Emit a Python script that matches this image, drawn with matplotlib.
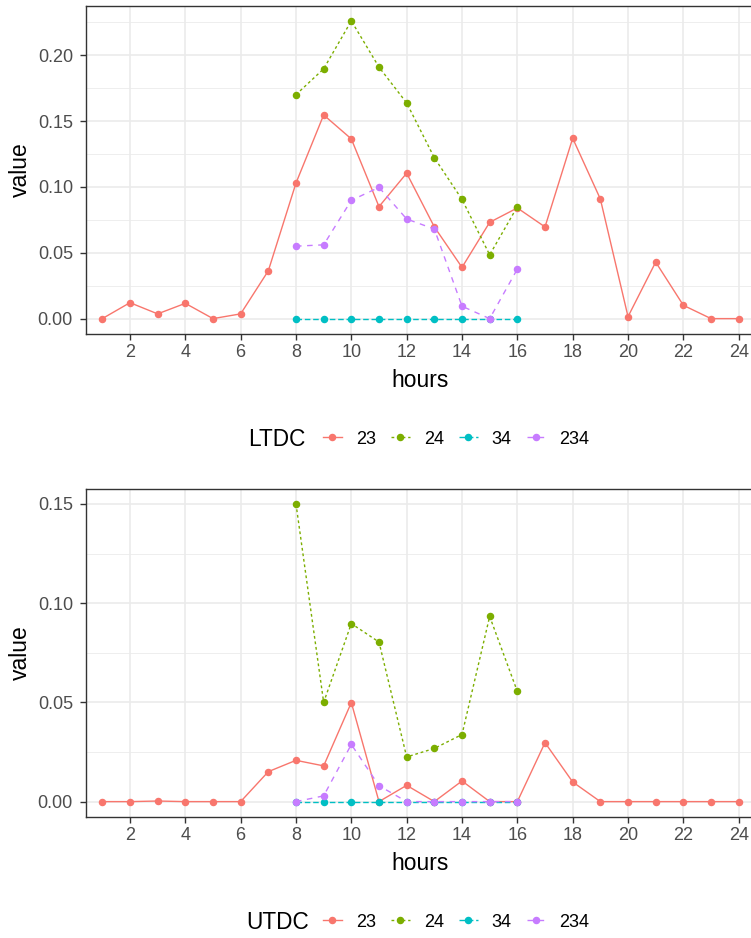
import numpy as np
import matplotlib
matplotlib.use('Agg')
import matplotlib.pyplot as plt
from matplotlib.lines import Line2D

plt.rcParams['font.family'] = ['Liberation Sans', 'DejaVu Sans']

hours = np.arange(1, 25)
hours_sub = np.arange(8, 17)

# LTDC panel
ltdc_23 = [0.0, 0.0121, 0.0036, 0.0116, 0.0, 0.0036, 0.0363, 0.1029, 0.1546, 0.1364,
           0.0850, 0.1104, 0.0696, 0.0389, 0.0731, 0.0840, 0.0696, 0.1369, 0.0908, 0.0015,
           0.0429, 0.0101, 0.0, 0.0]
ltdc_24 = [0.1700, 0.1896, 0.2260, 0.1909, 0.1637, 0.1221, 0.0905, 0.0484, 0.0850]
ltdc_34 = [0.0, 0.0, 0.0, 0.0, 0.0, 0.0, 0.0, 0.0, 0.0]
ltdc_234 = [0.0550, 0.0560, 0.0898, 0.0996, 0.0756, 0.0680, 0.0094, 0.0, 0.0376]

# UTDC panel
utdc_23 = [0.0, 0.0, 0.0003, 0.0, 0.0, 0.0, 0.0151, 0.0208, 0.0180, 0.0499,
           0.0, 0.0082, 0.0, 0.0104, 0.0, 0.0, 0.0297, 0.0099, 0.0, 0.0,
           0.0, 0.0, 0.0, 0.0]
utdc_24 = [0.1500, 0.0500, 0.0897, 0.0804, 0.0225, 0.0268, 0.0338, 0.0933, 0.0555]
utdc_34 = [0.0, 0.0, 0.0, 0.0, 0.0, 0.0, 0.0, 0.0, 0.0]
utdc_234 = [0.0, 0.0029, 0.0288, 0.0080, 0.0, 0.0, 0.0, 0.0, 0.0]

labels = ['23', '24', '34', '234']
colors = ['#F8766D', '#7CAE00', '#00BFC4', '#C77CFF']
styles = ['-', (0, (2, 2)), (0, (4, 2)), (0, (4, 4))]

W, H = 751, 938
fig = plt.figure(figsize=(W / 100, H / 100), dpi=100)


def panel(top, bottom, series, ymax, yticks, yminor, legend_title, legend_y, title_x):
    ax = fig.add_axes([85.7 / W, (H - bottom) / H, (755.3 - 85.7) / W, (bottom - top) / H])
    for (x, y), lab, c, ls in zip(series, labels, colors, styles):
        ax.plot(x, y, color=c, linestyle=ls, lw=1.0, marker='o', ms=4.4, mec=c, label=lab, zorder=3)
    ax.set_xlim(0.4, 24.6)
    ax.set_ylim(-ymax * 0.05, ymax * 1.05)
    ax.set_xticks(np.arange(2, 25, 2))
    ax.set_yticks(yticks)
    ax.set_yticklabels(['%.2f' % v for v in yticks])
    ax.set_yticks(yminor, minor=True)
    ax.grid(True, which='major', color='#EBEBEB', lw=1.2, zorder=0)
    ax.grid(True, which='minor', axis='y', color='#EBEBEB', lw=0.6, zorder=0)
    ax.set_axisbelow(True)
    for s in ax.spines.values():
        s.set_color('#333333')
        s.set_linewidth(1.0)
    ax.tick_params(which='major', length=4.2, width=1.0, color='#333333', labelcolor='#4D4D4D',
                   labelsize=13)
    ax.tick_params(axis='x', pad=3)
    ax.tick_params(axis='y', pad=5)
    ax.tick_params(which='minor', length=0)
    ax.set_xlabel('hours', fontsize=16.5, labelpad=6)
    ax.set_ylabel('value', fontsize=16.5, labelpad=4)

    handles = [Line2D([0], [0], color=c, linestyle=ls, lw=1.0, marker='o', ms=4.4)
               for c, ls in zip(colors, styles)]
    fig.text(title_x / W, 1 - legend_y / H, legend_title, fontsize=16.3, va='center', ha='left')
    fig.legend(handles, labels, loc='center left', bbox_to_anchor=(323 / W, 1 - legend_y / H),
               ncol=4, frameon=False, fontsize=13, handlelength=1.05, handletextpad=0.78,
               columnspacing=0.82, borderpad=0, borderaxespad=0)
    return ax


panel(6, 333.5,
      [(hours, ltdc_23), (hours_sub, ltdc_24), (hours_sub, ltdc_34), (hours_sub, ltdc_234)],
      0.226, [0.0, 0.05, 0.10, 0.15, 0.20], [0.025, 0.075, 0.125, 0.175, 0.225],
      'LTDC', 439, 248)

panel(489, 816.5,
      [(hours, utdc_23), (hours_sub, utdc_24), (hours_sub, utdc_34), (hours_sub, utdc_234)],
      0.15, [0.0, 0.05, 0.10, 0.15], [0.025, 0.075, 0.125],
      'UTDC', 922, 246)

fig.savefig('out.png', dpi=100)
